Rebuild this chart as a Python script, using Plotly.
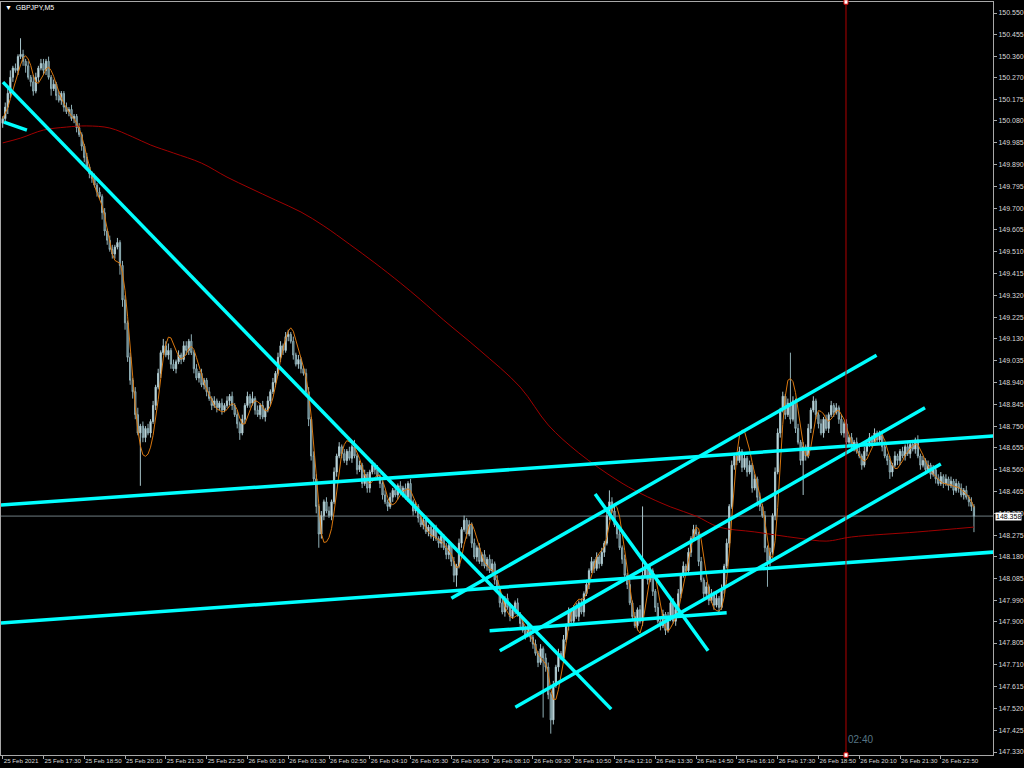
import numpy as np
import plotly.graph_objects as go

# ---------------- data ----------------
symbol_title = "GBPJPY,M5"
x_tick_labels = ["25 Feb 2021", "25 Feb 17:30", "25 Feb 18:50", "25 Feb 20:10", "25 Feb 21:30",
                 "25 Feb 22:50", "26 Feb 00:10", "26 Feb 01:30", "26 Feb 02:50", "26 Feb 04:10",
                 "26 Feb 05:30", "26 Feb 06:50", "26 Feb 08:10", "26 Feb 09:30", "26 Feb 10:50",
                 "26 Feb 12:10", "26 Feb 13:30", "26 Feb 14:50", "26 Feb 16:10", "26 Feb 17:30",
                 "26 Feb 18:50", "26 Feb 20:10", "26 Feb 21:30", "26 Feb 22:50"]
bars_per_label = 16  # 80 minutes of M5 bars
y_tick_vals = [150.550, 150.455, 150.360, 150.270, 150.175, 150.080, 149.985, 149.890, 149.795,
               149.700, 149.605, 149.510, 149.415, 149.320, 149.225, 149.130, 149.035, 148.940,
               148.845, 148.750, 148.655, 148.560, 148.465, 148.370, 148.275, 148.180, 148.085,
               147.990, 147.900, 147.805, 147.710, 147.615, 147.520, 147.425, 147.330]

first_open = 150.07
closes = [
    150.09, 150.14, 150.20, 150.27, 150.31, 150.30, 150.36, 150.37, 150.34, 150.32, 150.27, 150.25, 150.21, 150.27, 150.31, 150.33,
    150.30, 150.34, 150.27, 150.22, 150.24, 150.19, 150.17, 150.20, 150.14, 150.12, 150.13, 150.09, 150.10, 150.05, 150.02, 149.97,
    149.92, 149.88, 149.85, 149.83, 149.80, 149.77, 149.75, 149.68, 149.60, 149.56, 149.52, 149.50, 149.53, 149.55, 149.45, 149.30,
    149.20, 149.05, 148.95, 148.90, 148.80, 148.72, 148.75, 148.70, 148.74, 148.72, 148.77, 148.84, 148.92, 148.98, 149.07, 149.10,
    149.06, 149.08, 149.02, 149.00, 149.03, 149.06, 149.04, 149.10, 149.08, 149.12, 149.07, 149.00, 148.96, 148.98, 148.93, 148.95,
    148.90, 148.87, 148.84, 148.86, 148.83, 148.85, 148.82, 148.84, 148.86, 148.88, 148.84, 148.80, 148.76, 148.72, 148.78, 148.84,
    148.88, 148.85, 148.87, 148.82, 148.80, 148.84, 148.79, 148.82, 148.86, 148.90, 148.94, 148.98, 149.05, 149.10, 149.08, 149.14,
    149.15, 149.12, 149.06, 149.02, 149.04, 149.00, 148.98, 148.90, 148.78, 148.62, 148.52, 148.40, 148.28, 148.36, 148.42, 148.38,
    148.36, 148.42, 148.55, 148.62, 148.66, 148.63, 148.60, 148.64, 148.61, 148.66, 148.62, 148.56, 148.58, 148.50, 148.54, 148.48,
    148.55, 148.58, 148.56, 148.53, 148.50, 148.45, 148.42, 148.40, 148.44, 148.47, 148.45, 148.49, 148.46, 148.48, 148.44, 148.50,
    148.42, 148.38, 148.40, 148.35, 148.32, 148.34, 148.29, 148.31, 148.27, 148.30, 148.26, 148.24, 148.27, 148.22, 148.19, 148.23,
    148.16, 148.10, 148.14, 148.24, 148.30, 148.34, 148.28, 148.32, 148.24, 148.18, 148.22, 148.16, 148.19, 148.14, 148.17, 148.12,
    148.15, 148.08, 148.04, 147.98, 147.94, 148.00, 147.96, 147.92, 147.95, 147.98, 147.93, 147.89, 147.86, 147.84, 147.87, 147.83,
    147.80, 147.76, 147.72, 147.78, 147.74, 147.70, 147.58, 147.47, 147.62, 147.70, 147.76, 147.74, 147.82, 147.88, 147.94, 147.90,
    147.96, 147.92, 147.98, 147.94, 148.02, 148.06, 148.12, 148.16, 148.13, 148.18, 148.15, 148.20, 148.24, 148.36, 148.42, 148.38,
    148.32, 148.28, 148.22, 148.17, 148.10, 148.06, 147.98, 147.92, 147.88, 147.95, 147.90, 148.10, 148.14, 148.08, 148.12, 148.03,
    147.96, 147.90, 147.88, 147.93, 147.86, 147.92, 147.98, 147.90, 147.95, 148.02, 148.10, 148.14, 148.12, 148.20, 148.26, 148.30,
    148.28, 148.16, 148.08, 148.02, 148.05, 147.99, 148.02, 147.97, 148.00, 147.96, 148.04, 148.14, 148.24, 148.40, 148.58, 148.62,
    148.60, 148.64, 148.57, 148.61, 148.55, 148.58, 148.48, 148.52, 148.44, 148.40, 148.36, 148.22, 148.16, 148.20, 148.36, 148.55,
    148.72, 148.82, 148.88, 148.80, 148.85, 148.78, 148.86, 148.74, 148.68, 148.60, 148.66, 148.62, 148.74, 148.82, 148.86, 148.80,
    148.76, 148.72, 148.78, 148.74, 148.80, 148.84, 148.81, 148.83, 148.78, 148.72, 148.76, 148.68, 148.70, 148.66, 148.68, 148.64,
    148.62, 148.58, 148.64, 148.67, 148.70, 148.68, 148.72, 148.69, 148.71, 148.66, 148.62, 148.60, 148.55, 148.58, 148.62, 148.60,
    148.64, 148.62, 148.66, 148.63, 148.67, 148.65, 148.69, 148.62, 148.58, 148.60, 148.56, 148.58, 148.54, 148.56, 148.52, 148.50,
    148.53, 148.50, 148.52, 148.49, 148.51, 148.47, 148.50, 148.48, 148.45, 148.47, 148.44, 148.42, 148.40, 148.358,
]
# upper / lower wick length of each candle, in pips (0.01)
wick_up_pips = [
    1, 2, 2, 3, 1, 2, 1, 7, 2, 1, 2, 1, 3, 2, 1, 2,
    2, 1, 2, 1, 2, 1, 2, 1, 1, 2, 1, 2, 1, 1, 2, 1,
    1, 2, 1, 1, 2, 1, 2, 1, 2, 1, 2, 2, 1, 2, 1, 2,
    2, 1, 2, 1, 2, 3, 1, 2, 1, 2, 1, 2, 1, 2, 1, 3,
    2, 3, 1, 2, 1, 2, 1, 2, 2, 1, 3, 1, 2, 1, 2, 1,
    1, 2, 1, 2, 1, 1, 2, 1, 2, 1, 2, 1, 2, 1, 2, 1,
    2, 1, 3, 1, 2, 1, 2, 1, 2, 1, 2, 1, 2, 2, 1, 2,
    2, 1, 2, 1, 2, 1, 1, 2, 2, 1, 2, 2, 1, 2, 1, 2,
    2, 1, 2, 1, 2, 1, 2, 1, 2, 1, 3, 1, 2, 1, 2, 1,
    1, 2, 1, 2, 1, 1, 2, 1, 2, 1, 2, 1, 2, 1, 2, 1,
    2, 1, 2, 1, 2, 1, 2, 1, 2, 1, 2, 1, 2, 1, 2, 1,
    1, 2, 1, 2, 1, 2, 1, 2, 1, 2, 1, 2, 1, 2, 1, 2,
    2, 1, 2, 1, 2, 1, 2, 1, 2, 1, 2, 1, 2, 1, 2, 1,
    1, 2, 1, 2, 1, 2, 2, 1, 2, 1, 2, 1, 2, 1, 2, 1,
    1, 2, 1, 2, 1, 2, 1, 2, 1, 2, 1, 2, 1, 2, 5, 2,
    2, 1, 2, 1, 2, 1, 2, 1, 2, 1, 2, 30, 2, 1, 2, 1,
    1, 2, 1, 2, 1, 2, 1, 2, 1, 2, 1, 2, 1, 2, 1, 2,
    2, 1, 2, 1, 2, 1, 2, 1, 2, 1, 2, 1, 2, 1, 2, 1,
    1, 2, 1, 2, 1, 2, 1, 2, 1, 2, 1, 2, 1, 2, 1, 2,
    2, 1, 2, 1, 2, 22, 2, 1, 2, 1, 2, 1, 2, 1, 2, 1,
    1, 2, 1, 2, 1, 2, 1, 2, 1, 2, 1, 2, 1, 2, 1, 2,
    2, 1, 2, 1, 2, 1, 2, 1, 2, 1, 2, 1, 2, 1, 2, 1,
    1, 2, 1, 2, 1, 2, 1, 2, 1, 2, 1, 2, 1, 2, 1, 2,
    2, 1, 2, 1, 2, 1, 2, 1, 2, 1, 2, 1, 2, 1,
]
wick_dn_pips = [
    2, 1, 3, 2, 2, 1, 2, 1, 2, 3, 1, 2, 2, 1, 2, 1,
    2, 2, 1, 3, 1, 2, 1, 2, 2, 1, 2, 1, 2, 2, 1, 2,
    2, 1, 2, 2, 1, 2, 1, 3, 2, 2, 1, 2, 2, 1, 4, 3,
    3, 2, 2, 3, 2, 1, 23, 2, 2, 1, 2, 1, 2, 1, 2, 1,
    1, 2, 2, 1, 2, 1, 2, 1, 2, 2, 1, 2, 1, 2, 1, 2,
    2, 1, 2, 1, 2, 1, 2, 1, 1, 2, 2, 1, 2, 3, 1, 2,
    1, 2, 1, 2, 1, 2, 1, 2, 1, 2, 1, 2, 1, 2, 2, 1,
    2, 1, 2, 1, 2, 2, 1, 2, 3, 2, 2, 3, 6, 2, 2, 1,
    1, 2, 1, 2, 1, 2, 1, 2, 1, 2, 1, 2, 1, 2, 1, 2,
    2, 1, 2, 1, 2, 2, 1, 2, 1, 2, 1, 2, 1, 2, 1, 2,
    1, 2, 1, 2, 1, 2, 1, 2, 1, 2, 1, 2, 2, 1, 2, 2,
    2, 3, 5, 1, 2, 1, 2, 1, 2, 1, 2, 1, 2, 1, 2, 1,
    1, 2, 1, 2, 1, 2, 1, 2, 1, 2, 1, 2, 1, 2, 1, 2,
    2, 1, 2, 1, 26, 2, 2, 6, 2, 1, 2, 1, 2, 1, 2, 1,
    2, 1, 2, 1, 2, 1, 2, 1, 2, 1, 2, 1, 2, 1, 2, 1,
    1, 2, 1, 2, 1, 2, 1, 2, 1, 2, 1, 2, 1, 2, 1, 2,
    2, 1, 2, 1, 2, 1, 2, 1, 2, 1, 2, 1, 2, 1, 2, 1,
    1, 2, 1, 2, 1, 2, 1, 2, 1, 2, 1, 2, 1, 2, 1, 2,
    2, 1, 2, 1, 2, 1, 2, 1, 4, 2, 1, 2, 11, 2, 1, 2,
    1, 2, 1, 2, 1, 2, 1, 2, 1, 2, 15, 2, 1, 2, 1, 2,
    2, 1, 2, 1, 2, 1, 2, 1, 2, 1, 2, 1, 2, 1, 2, 1,
    1, 2, 1, 2, 1, 2, 1, 2, 1, 2, 1, 2, 3, 2, 1, 2,
    2, 1, 2, 1, 2, 1, 2, 1, 2, 1, 2, 1, 2, 1, 2, 1,
    1, 2, 1, 2, 1, 2, 1, 2, 1, 2, 1, 2, 2, 7,
]

# slow (long period) moving average: bar index, price
ma_slow_bars = [0, 7, 16, 25, 33, 42, 51, 58, 67, 78, 88, 97, 107, 117, 126, 136, 146, 156, 164,
                173, 187, 203, 214, 226, 241, 250, 262, 272, 281, 295, 312, 323, 333, 359, 381]
ma_slow_vals = [149.984, 150.005, 150.040, 150.053, 150.058, 150.049, 150.010, 149.975, 149.940,
                149.896, 149.835, 149.787, 149.735, 149.683, 149.622, 149.543, 149.461, 149.374,
                149.300, 149.212, 149.082, 148.920, 148.755, 148.633, 148.515, 148.458, 148.398,
                148.358, 148.310, 148.289, 148.262, 148.249, 148.267, 148.289, 148.310]

# hand-drawn trend lines: start bar, start price, end bar, end price
trend_x0 = [0.1, 0.5, -0.7, -0.7, 176.0, 195.0, 201.1, 191.0, 232.4]
trend_y0 = [150.249, 150.075, 148.406, 147.892, 148.000, 147.771, 147.525, 147.858, 148.454]
trend_x1 = [238.7, 9.5, 388.5, 388.5, 342.8, 361.8, 368.0, 284.0, 276.7]
trend_y1 = [147.517, 150.040, 148.707, 148.201, 149.059, 148.830, 148.585, 147.937, 147.771]

crosshair_bar = 330.8
countdown_text = "02:40"

# ---------------- derived ----------------
n = len(closes)
bars = list(range(n))
opens = [first_open] + closes[:-1]
highs = [max(o, c) + u / 100 for o, c, u in zip(opens, closes, wick_up_pips)]
lows = [min(o, c) - d / 100 for o, c, d in zip(opens, closes, wick_dn_pips)]


def wma(a, p):
    out = np.empty(len(a))
    for i in range(len(a)):
        w = np.asarray(a[max(0, i - p + 1):i + 1])
        k = np.arange(1, len(w) + 1)
        out[i] = (w * k).sum() / k.sum()
    return out


c_arr = np.array(closes)
# fast indicator line (Hull-type moving average of the closes)
fast_ma = wma(2 * wma(c_arr, 6) - wma(c_arr, 12), 3)

x_tick_vals = [i * bars_per_label for i in range(len(x_tick_labels))]

# ---------------- figure ----------------
fig = go.Figure()

fig.add_trace(go.Scatter(x=ma_slow_bars, y=ma_slow_vals, mode="lines",
                         line=dict(color="#A00000", width=1, shape="spline"),
                         hoverinfo="skip"))

fig.add_trace(go.Candlestick(
    x=bars, open=opens, high=highs, low=lows, close=closes,
    increasing=dict(line=dict(color="#A9C6CC", width=1), fillcolor="#E4F0F2"),
    decreasing=dict(line=dict(color="#8FAEB5", width=1), fillcolor="#3E5C64"),
    whiskerwidth=0,
))

fig.add_trace(go.Scatter(x=bars, y=fast_ma, mode="lines",
                         line=dict(color="#D9770E", width=1), hoverinfo="skip"))

for x0, y0, x1, y1 in zip(trend_x0, trend_y0, trend_x1, trend_y1):
    fig.add_trace(go.Scatter(x=[x0, x1], y=[y0, y1], mode="lines",
                             line=dict(color="#00FFFF", width=3.5), hoverinfo="skip"))

last_price = closes[-1]
axis_col = "#A8A8A8"
txt_col = "#D8D8D8"

fig.add_shape(type="line", xref="paper", x0=0, x1=1, yref="y", y0=last_price, y1=last_price,
              line=dict(color="#6F7C82", width=1), layer="below")
fig.add_shape(type="line", xref="x", x0=crosshair_bar, x1=crosshair_bar, yref="paper", y0=0, y1=1,
              line=dict(color="#B00000", width=1), layer="above")
for yy in (0, 1):
    fig.add_shape(type="rect", xref="x", x0=crosshair_bar - 0.8, x1=crosshair_bar + 0.8,
                  yref="paper", y0=yy - 0.003, y1=yy + 0.003,
                  fillcolor="white", line=dict(color="#D00000", width=1), layer="above")

fig.add_annotation(xref="paper", yref="paper", x=0, y=1, xanchor="left", yanchor="top",
                   xshift=2, yshift=0, showarrow=False,
                   text="▼  " + symbol_title, font=dict(size=7, color="white", family="Liberation Sans"))
fig.add_annotation(xref="paper", yref="y", x=1, y=last_price, xanchor="left", yanchor="middle",
                   xshift=2, showarrow=False, text=f"{last_price:.3f}",
                   bgcolor="white", borderpad=0, font=dict(size=7, color="black", family="Liberation Sans"))
fig.add_annotation(xref="x", yref="paper", x=crosshair_bar, y=0, xanchor="left", yanchor="bottom",
                   xshift=0, yshift=8, showarrow=False, text=countdown_text,
                   font=dict(size=10, color="#567585", family="Liberation Sans"))

fig.update_layout(
    width=1024, height=768,
    margin=dict(l=0, r=29, t=2, b=13),
    paper_bgcolor="black", plot_bgcolor="black",
    showlegend=False,
    font=dict(family="Liberation Sans", size=7, color=txt_col),
    hovermode=False,
)
fig.update_xaxes(
    range=[-0.665, 388.47], rangeslider=dict(visible=False),
    tickvals=x_tick_vals, ticktext=x_tick_labels, ticks="outside", ticklen=3,
    tickcolor=axis_col, ticklabelposition="outside right", tickangle=0,
    tickfont=dict(size=6.2, color=txt_col),
    showgrid=False, zeroline=False, showline=True, linecolor=axis_col, linewidth=1, mirror=True,
)
fig.update_yaxes(
    side="right", range=[147.317, 150.598],
    tickvals=y_tick_vals, ticktext=[f"{v:.3f}" for v in y_tick_vals],
    ticks="outside", ticklen=3, tickcolor=axis_col,
    tickfont=dict(size=7, color=txt_col),
    showgrid=False, zeroline=False, showline=True, linecolor=axis_col, linewidth=1, mirror=True,
)

fig.write_html("out.html", config={"displayModeBar": False},
               post_script="document.body.style.margin='0';document.body.style.overflow='hidden';")
